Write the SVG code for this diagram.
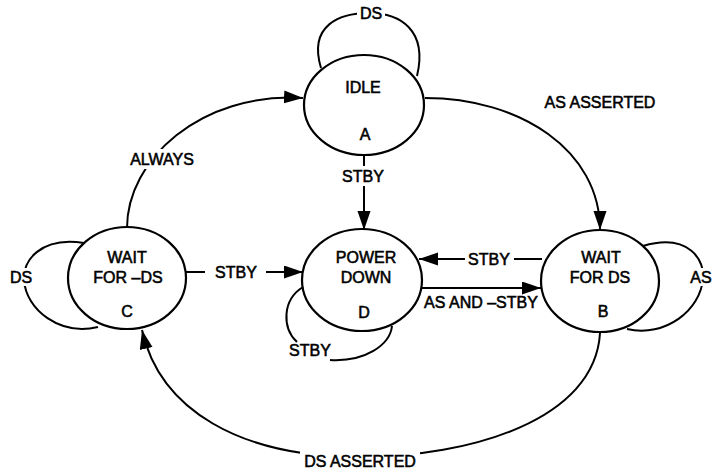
<svg xmlns="http://www.w3.org/2000/svg" width="719" height="469" viewBox="0 0 719 469">
<style>
.n{fill:none;stroke:#000;stroke-width:2.2}
.c{fill:none;stroke:#000;stroke-width:2}
text{font-family:"Liberation Sans",Arial,sans-serif;font-size:16px;fill:#000;stroke:#000;stroke-width:0.55;text-anchor:middle}
.bg{fill:#fff}
</style>
<defs>
<marker id="ah" markerUnits="userSpaceOnUse" markerWidth="22" markerHeight="14" refX="19" refY="6.5" orient="auto">
<path d="M0,0 L19,6.5 L0,13 z" fill="#000"/>
</marker>
</defs>
<rect width="719" height="469" fill="#fff"/>
<g id="nodeA"><ellipse class="n" cx="364" cy="105" rx="60" ry="50"/><text x="363" y="93">IDLE</text><text x="365" y="140">A</text></g>
<g id="nodeD"><ellipse class="n" cx="362" cy="280" rx="60" ry="51"/><text x="366" y="263">POWER</text><text x="366" y="283">DOWN</text><text x="364" y="318">D</text></g>
<g id="nodeB"><ellipse class="n" cx="600" cy="281" rx="59" ry="51"/><text x="601" y="263">WAIT</text><text x="600" y="283">FOR DS</text><text x="603" y="317">B</text></g>
<g id="nodeC"><ellipse class="n" cx="127" cy="278" rx="59" ry="51"/><text x="127" y="263">WAIT</text><text x="128" y="283">FOR –DS</text><text x="127" y="317">C</text></g>
<g id="connectors">
<path class="c" d="M321,68 C308,25 340,13 369,13 C400,13 428,30 417,76"/>
<rect class="bg" x="357" y="5" width="28" height="16"/>
<text x="371" y="19">DS</text>
<path class="c" d="M364,155 L364,166"/>
<path class="c" d="M364,186 L364,230" marker-end="url(#ah)"/>
<text x="363" y="182">STBY</text>
<path class="c" d="M186,272 L205,272"/>
<path class="c" d="M266,272 L303,272" marker-end="url(#ah)"/>
<text x="236" y="278">STBY</text>
<path class="c" d="M542,259 L514,259"/>
<path class="c" d="M465,259 L419,259" marker-end="url(#ah)"/>
<text x="489" y="265">STBY</text>
<path class="c" d="M422,288 L541,288" marker-end="url(#ah)"/>
<text x="481" y="308">AS AND –STBY</text>
<path class="c" d="M425,98 C520,98 600,150 600,230" marker-end="url(#ah)"/>
<text x="600" y="108">AS ASSERTED</text>
<path class="c" d="M127,228 C127,160 200,92 303,98" marker-end="url(#ah)"/>
<rect class="bg" x="126" y="149" width="72" height="20"/>
<text x="162" y="165">ALWAYS</text>
<path class="c" d="M600,333 C595,420 470,457 360,457 C240,457 160,410 142,330" marker-end="url(#ah)"/>
<rect class="bg" x="300" y="450" width="120" height="19"/>
<text x="360" y="467">DS ASSERTED</text>
<path class="c" d="M84,243 C40,236 22,262 24,280 C26,310 60,336 98,327"/>
<rect class="bg" x="6" y="268" width="30" height="18"/>
<text x="21" y="283">DS</text>
<path class="c" d="M643,246 C690,232 705,262 703,278 C701,310 665,338 627,329"/>
<rect class="bg" x="688" y="268" width="28" height="18"/>
<text x="701" y="283">AS</text>
<path class="c" d="M303,287 C282,300 282,328 297,342"/>
<path class="c" d="M330,360 C365,362 390,345 392,326"/>
<text x="310" y="356">STBY</text>
</g>
</svg>
